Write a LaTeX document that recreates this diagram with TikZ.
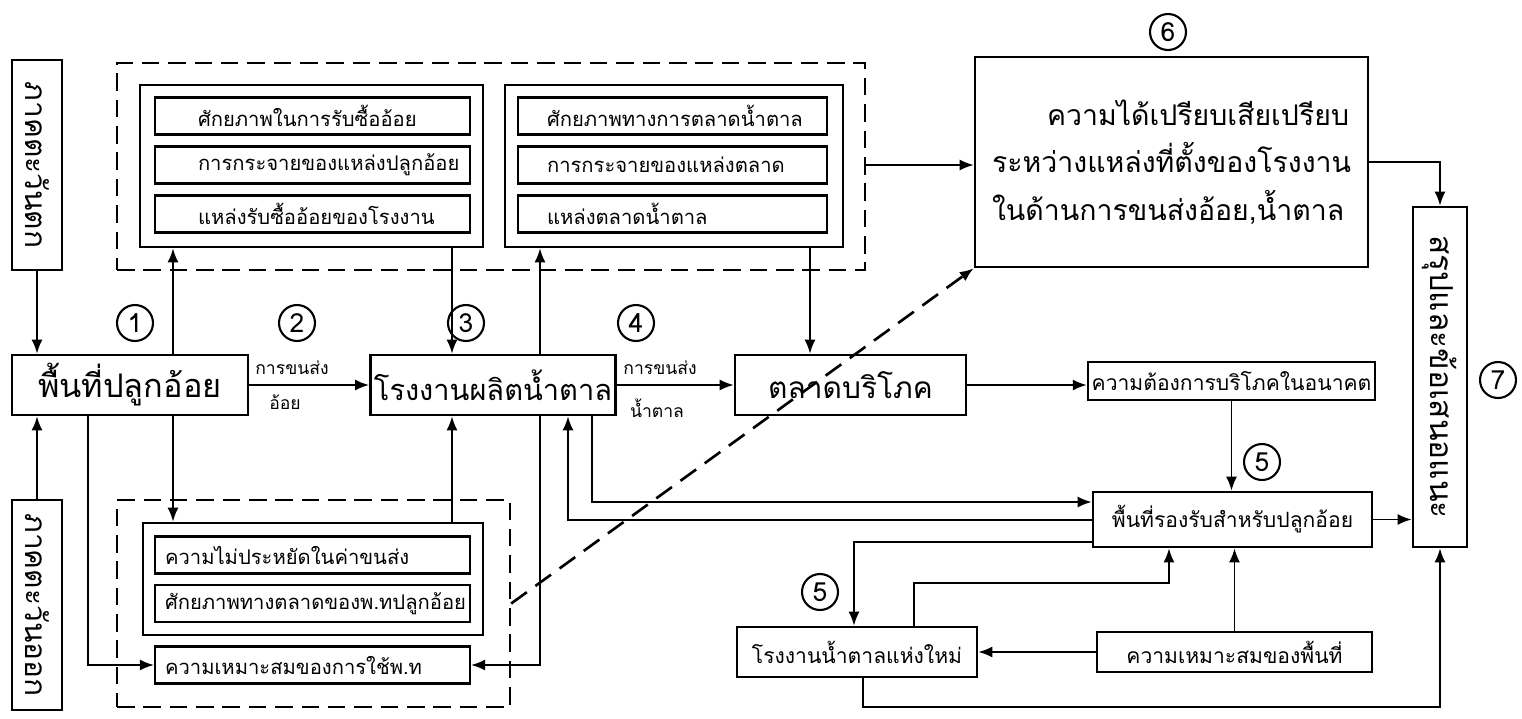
\documentclass[tikz,border=0pt]{standalone}
\usepackage{fontspec}
\setmainfont{Loma}[Script=Thai]
\usetikzlibrary{arrows.meta}

\begin{document}
\begin{tikzpicture}[x=0.02cm,y=-0.02cm,
  box/.style={draw,line width=1.5pt,inner sep=2pt},
  big/.style={box,minimum height=1.2cm,font=\fontsize{17}{20}\selectfont},
  side/.style={box,rotate=-90,minimum width=4.2cm,minimum height=1cm,font=\fontsize{17}{20}\selectfont},
  grp/.style={draw,line width=1.4pt,dash pattern=on 10pt off 5pt},
  row/.style={draw,line width=1.2pt,minimum height=0.74cm,inner sep=1pt,font=\fontsize{11.5}{14}\selectfont},
  small/.style={box,font=\fontsize{12}{14}\selectfont},
  num/.style={draw,circle,line width=1.2pt,minimum size=0.72cm,inner sep=0pt,font=\fontsize{15}{15}\selectfont},
  lbl/.style={inner sep=1pt,font=\fontsize{10}{12}\selectfont},
  arr/.style={-{Latex[length=2.8mm,width=2.2mm]},line width=1.1pt}]

\useasboundingbox (0,0) rectangle (1522,718);

\node[side] (west) at (37,165) {ภาคตะวันตก};
\node[side] (east) at (37,605) {ภาคตะวันออก};
% turned node: its south is the left side, its east the bottom
\node[side,minimum width=6.8cm,minimum height=1.08cm,font=\fontsize{18}{20}\selectfont] (concl) at (1440,377) {สรุปและข้อเสนอแนะ};

\node[big,minimum width=4.72cm,font=\fontsize{18.5}{20}\selectfont] (plant) at (130,385) {พื้นที่ปลูกอ้อย};
\node[big,minimum width=4.84cm,font=\fontsize{16.5}{20}\selectfont] (mill) at (493,385) {โรงงานผลิตน้ำตาล};
\node[big,minimum width=4.62cm] (market) at (850.5,385) {ตลาดบริโภค};
\node[small,minimum width=5.62cm,minimum height=0.76cm] (demand) at (1231.5,381) {ความต้องการบริโภคในอนาคต};

\node[box,minimum width=7.86cm,minimum height=4.2cm,text width=7.18cm,inner xsep=0.34cm,align=left,
  font=\fontsize{16.2}{27}\selectfont] (adv) at (1171.5,162)
  {\hspace*{1.1cm}ความได้เปรียบเสียเปรียบ\\ระหว่างแหล่งที่ตั้งของโรงงาน\\ในด้านการขนส่งอ้อย,น้ำตาล};

\node[grp,minimum width=14.96cm,minimum height=4.14cm] (topgrp) at (491,166.5) {};
\node[box,minimum width=6.86cm,minimum height=3.24cm] (supply) at (311.5,166) {};
\node[row,minimum width=6.3cm] (s1) at (312.5,116) {\makebox[4.58cm][l]{ศักยภาพในการรับซื้ออ้อย}};
\node[row,minimum width=6.3cm] (s2) at (312.5,165) {\makebox[4.58cm][l]{การกระจายของแหล่งปลูกอ้อย}};
\node[row,minimum width=6.3cm] (s3) at (312.5,214) {\makebox[4.58cm][l]{แหล่งรับซื้ออ้อยของโรงงาน}};
\node[box,minimum width=6.76cm,minimum height=3.24cm] (sales) at (674,166) {};
\node[row,minimum width=6.18cm] (m1) at (672.5,116) {\makebox[5.02cm][l]{ศักยภาพทางการตลาดน้ำตาล}};
\node[row,minimum width=6.18cm] (m2) at (672.5,165) {\makebox[5.02cm][l]{การกระจายของแหล่งตลาด}};
\node[row,minimum width=6.18cm] (m3) at (672.5,214) {\makebox[5.02cm][l]{แหล่งตลาดน้ำตาล}};

\node[grp,minimum width=7.86cm,minimum height=4.14cm] (botgrp) at (313.5,603.5) {};
\node[box,minimum width=6.8cm,minimum height=2.24cm] (bin) at (313,579) {};
\node[row,minimum width=6.3cm] (b1) at (312.5,555) {\makebox[5.9cm][l]{ความไม่ประหยัดในค่าขนส่ง}};
\node[row,minimum width=6.3cm] (b2) at (312.5,603.5) {\makebox[5.9cm][l]{ศักยภาพทางตลาดของพ.ทปลูกอ้อย}};
\node[row,minimum width=6.3cm] (use) at (312.5,665) {\makebox[5.9cm][l]{ความเหมาะสมของการใช้พ.ท}};

\node[small,minimum width=5.58cm,minimum height=1.1cm] (reserve) at (1232.5,519.5) {พื้นที่รองรับสำหรับปลูกอ้อย};
\node[small,minimum width=4.8cm,minimum height=1cm] (newmill) at (857,652) {โรงงานน้ำตาลแห่งใหม่};
\node[small,minimum width=5.5cm,minimum height=0.8cm] (suit) at (1234.5,652) {ความเหมาะสมของพื้นที่};

\node[num] (n1) at (135,323) {1};
\node[num] (n2) at (297,323) {2};
\node[num] (n3) at (466,323) {3};
\node[num] (n4) at (636,323) {4};
\node[num] (n5a) at (1262,462) {5};
\node[num] (n5b) at (820,592) {5};
\node[num] (n6) at (1168,32) {6};
\node[num] (n7) at (1498,380) {7};

\node[lbl] (t1) at (292,368) {การขนส่ง};
\node[lbl] (t2) at (285,402) {อ้อย};
\node[lbl] (t3) at (660,368) {การขนส่ง};
\node[lbl] (t4) at (657,408) {น้ำตาล};

\coordinate (xa) at (173,0);
\coordinate (xb) at (88,0);
\coordinate (xc) at (452,0);
\coordinate (xd) at (540,0);
\coordinate (xe) at (568,0);
\coordinate (xf) at (592,0);
\coordinate (xg) at (810,0);
\coordinate (xh) at (854,0);
\coordinate (xi) at (914,0);
\coordinate (xj) at (1169,0);
\coordinate (xn) at (863,0);
\coordinate (ya) at (0,165);
\coordinate (yb) at (0,707);
\coordinate (yc) at (0,502);
\coordinate (yd) at (0,520);
\coordinate (ye) at (0,542);
\coordinate (yf) at (0,583);

\draw[arr] (west) -- (west |- plant.north);
\draw[arr] (east) -- (east |- plant.south);
\draw[arr] (plant) -- (mill);
\draw[arr] (mill) -- (market);
\draw[arr] (market.east) -- (market.east -| demand.west);

\draw[arr] (plant.north -| xa) -- (supply.south -| xa);
\draw[arr] (supply.south -| xc) -- (mill.north -| xc);
\draw[arr] (mill.north -| xd) -- (sales.south -| xd);
\draw[arr] (sales.south -| xg) -- (market.north -| xg);
\draw[arr] (topgrp.east |- ya) -- (adv.west |- ya);
\draw[arr] (adv.east) -| (concl);

\draw[arr] (plant.south -| xa) -- (bin.north -| xa);
\draw[arr] (plant.south -| xb) |- (use.west);
\draw[arr] (bin.north -| xc) -- (mill.south -| xc);
\draw[arr] (mill.south -| xd) |- (use.east);
\draw[arr] (mill.south -| xf) |- (reserve.west |- yc);
\draw[arr] (reserve.west |- yd) -| (mill.south -| xe);
\draw[arr,line width=1.5pt,dash pattern=on 11pt off 6pt] (botgrp.east) -- (adv.south west);

\draw[arr] (demand) -- (demand |- reserve.north);
\draw[arr] (reserve.east) -- (reserve.east -| concl.south);
\draw[arr] (reserve.west |- ye) -| (newmill.north -| xh);
\draw[arr] (newmill.north -| xi) |- (xj |- yf) -- (reserve.south -| xj);
\draw[arr] (suit) -- (suit |- reserve.south);
\draw[arr] (suit) -- (newmill);
\draw[arr] (newmill.south -| xn) |- (concl.east |- yb) -- (concl.east);

\end{tikzpicture}
\end{document}
